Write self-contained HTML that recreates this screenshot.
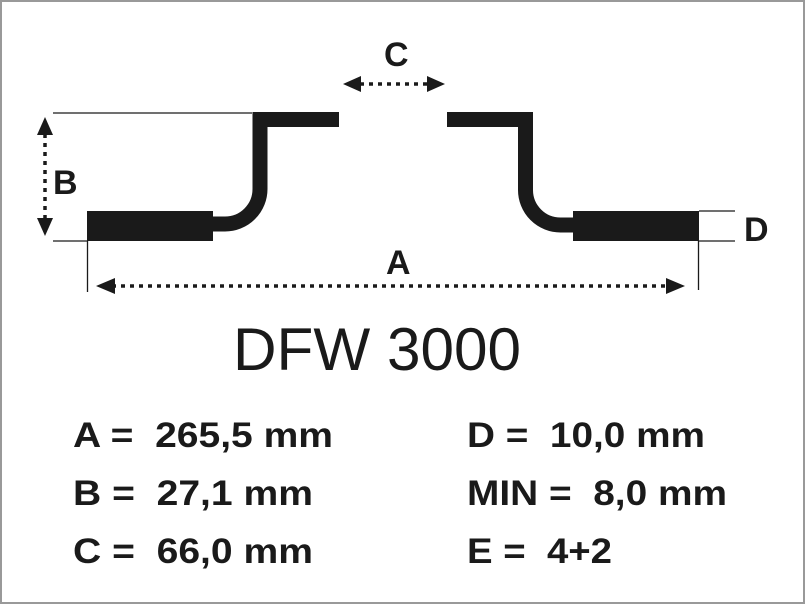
<!DOCTYPE html>
<html><head><meta charset="utf-8"><style>
html,body{margin:0;padding:0;background:#fff}
svg{display:block}
text{font-family:"Liberation Sans",Arial,sans-serif;fill:#1a1a1a;white-space:pre}
</style></head><body>
<svg width="805" height="604" viewBox="0 0 805 604" xmlns="http://www.w3.org/2000/svg" xml:space="preserve">
<rect x="1" y="1" width="803" height="602" fill="#fff" stroke="#999" stroke-width="2"/>
<rect x="87" y="211" width="126" height="30" fill="#1a1a1a"/>
<path d="M210 224 H225 A35 35 0 0 0 260 189 V119.5 H339" fill="none" stroke="#1a1a1a" stroke-width="15"/>
<rect x="573" y="211" width="126" height="30" fill="#1a1a1a"/>
<path d="M447 119.5 H525.5 V190 A35 35 0 0 0 560.5 225 H576" fill="none" stroke="#1a1a1a" stroke-width="15"/>
<g stroke="#1a1a1a" stroke-width="1.3" fill="none">
<line x1="53" y1="113" x2="252" y2="113"/>
<line x1="53" y1="241" x2="87" y2="241"/>
<line x1="87.5" y1="241" x2="87.5" y2="292"/>
<line x1="698.5" y1="241" x2="698.5" y2="290"/>
<line x1="699" y1="211" x2="735" y2="211"/>
<line x1="699" y1="241" x2="735" y2="241"/>
</g>
<g stroke="#1a1a1a" stroke-width="3.5" fill="none" stroke-dasharray="4 5">
<line x1="45" y1="134" x2="45" y2="218"/>
<line x1="360" y1="84" x2="428" y2="84"/>
<line x1="112" y1="286" x2="668" y2="286"/>
</g>
<g fill="#1a1a1a">
<polygon points="45,117 37,135 53,135"/>
<polygon points="45,236 37,218 53,218"/>
<polygon points="343,84 361,76 361,92"/>
<polygon points="445,84 427,76 427,92"/>
<polygon points="96,286 115,278 115,294"/>
<polygon points="685,286 666,278 666,294"/>
</g>
<g font-weight="bold" font-size="34">
<text x="384" y="66">C</text>
<text x="53" y="194">B</text>
<text x="386" y="274">A</text>
<text x="744" y="241">D</text>
</g>
<text x="233" y="370" font-size="60" textLength="288" lengthAdjust="spacingAndGlyphs">DFW 3000</text>
<g font-weight="bold" font-size="35">
<text x="73" y="447" textLength="260" lengthAdjust="spacingAndGlyphs">A =  265,5 mm</text>
<text x="73" y="505" textLength="240" lengthAdjust="spacingAndGlyphs">B =  27,1 mm</text>
<text x="73" y="563" textLength="240" lengthAdjust="spacingAndGlyphs">C =  66,0 mm</text>
<text x="467" y="447" textLength="238" lengthAdjust="spacingAndGlyphs">D =  10,0 mm</text>
<text x="467" y="505" textLength="260" lengthAdjust="spacingAndGlyphs">MIN =  8,0 mm</text>
<text x="467" y="563" textLength="145" lengthAdjust="spacingAndGlyphs">E =  4+2</text>
</g>
</svg>
</body></html>
